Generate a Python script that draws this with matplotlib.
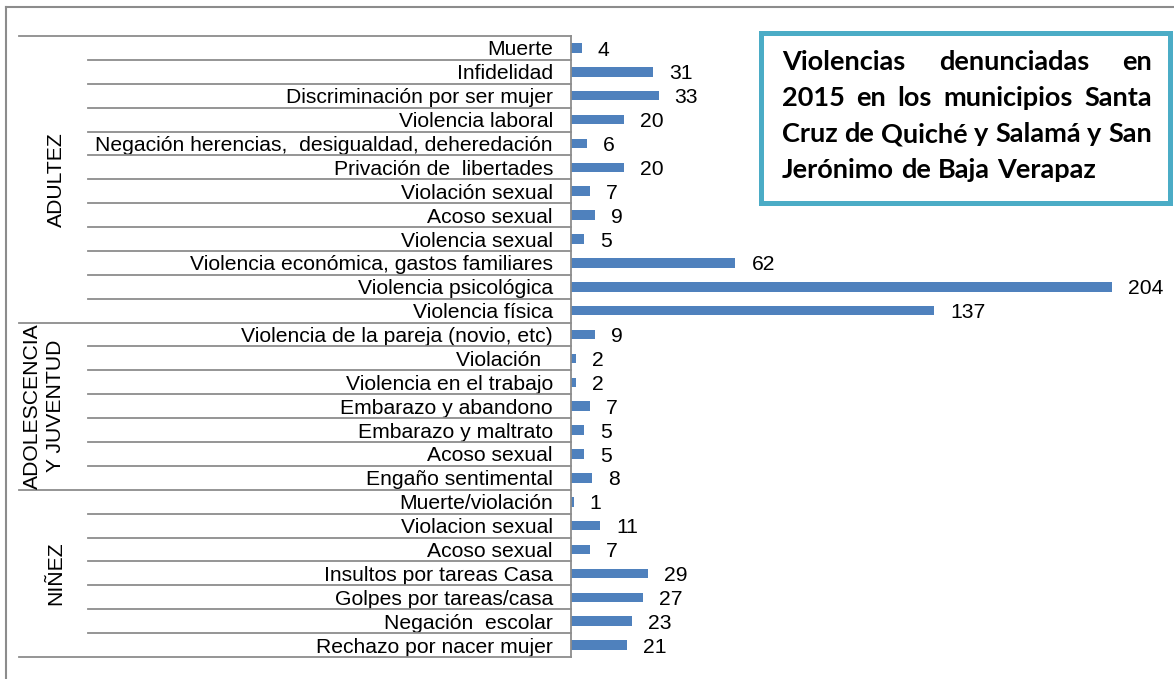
import matplotlib
matplotlib.use("Agg")
import matplotlib.pyplot as plt
from matplotlib.transforms import blended_transform_factory
from matplotlib.lines import Line2D
from matplotlib.patches import Rectangle

# datos
categorias = [
    "Muerte", "Infidelidad", "Discriminación por ser mujer", "Violencia laboral",
    "Negación herencias,  desigualdad, deheredación", "Privación de  libertades",
    "Violación sexual", "Acoso sexual", "Violencia sexual",
    "Violencia económica, gastos familiares", "Violencia psicológica", "Violencia física",
    "Violencia de la pareja (novio, etc)", "Violación  ", "Violencia en el trabajo",
    "Embarazo y abandono", "Embarazo y maltrato", "Acoso sexual", "Engaño sentimental",
    "Muerte/violación", "Violacion sexual", "Acoso sexual", "Insultos por tareas Casa",
    "Golpes por tareas/casa", "Negación  escolar", "Rechazo por nacer mujer",
]
valores = [4, 31, 33, 20, 6, 20, 7, 9, 5, 62, 204, 137,
           9, 2, 2, 7, 5, 5, 8,
           1, 11, 7, 29, 27, 23, 21]
grupos = ["ADULTEZ", "ADOLESCENCIA\nY JUVENTUD", "NIÑEZ"]
tam_grupos = [12, 7, 7]
titulo = ["Violencias denunciadas en", "2015 en los municipios Santa",
          "Cruz de Quiché y Salamá y San", "Jerónimo de Baja Verapaz"]

W, H = 1174, 679
fig = plt.figure(figsize=(W / 100, H / 100), dpi=100)
plt.rcParams['font.family'] = ['Liberation Sans', 'DejaVu Sans']
fs = 15.2

def fx(px):
    return px / W

def fy(py):
    return 1 - py / H

ax_left, ax_right, ax_top, ax_bot = 571, 1165, 36, 657
ax = fig.add_axes([fx(ax_left), fy(ax_bot), fx(ax_right - ax_left), (ax_bot - ax_top) / H])

y = list(range(len(categorias)))
ax.barh(y, valores, height=0.4, color="#4F81BD")
ax.set_xlim(0, (ax_right - ax_left) / 2.652)
ax.set_ylim(len(categorias) - 0.5, -0.5)

for i, v in enumerate(valores):
    ax.annotate(str(v), (v, i), xytext=(11.5, -1.5), textcoords="offset points",
                ha="left", va="center", fontsize=fs)

ax.set_yticks(y)
ax.set_yticklabels(categorias, fontsize=fs)
ax.tick_params(axis="y", length=0, pad=13)
ax.set_xticks([])
for s in ["top", "right", "bottom"]:
    ax.spines[s].set_visible(False)
ax.spines["left"].set_color("#8c8c8c")
ax.spines["left"].set_linewidth(1.3)

# lineas del eje de categorias
tr = blended_transform_factory(fig.transFigure, ax.transData)
limites = [0]
for n in tam_grupos:
    limites.append(limites[-1] + n)
for k in range(len(categorias) + 1):
    x0 = 19 if k in limites else 88
    fig.add_artist(Line2D([fx(x0), fx(ax_left)], [k - 0.5, k - 0.5], transform=tr,
                          color="#8c8c8c", lw=1.3))

for g, n, a, b in zip(grupos, tam_grupos, limites[:-1], limites[1:]):
    xg = 44 if "\n" in g else 56
    fig.text(fx(xg), (a + b - 1) / 2, g, transform=tr, rotation=90, ha="center",
             va="center", fontsize=fs, multialignment="center", linespacing=1.25)

# borde exterior
fig.add_artist(Line2D([fx(6), fx(6)], [fy(7), 0], color="#8c8c8c", lw=1.5))
fig.add_artist(Line2D([fx(6), 1], [fy(7), fy(7)], color="#8c8c8c", lw=1.5))

# cuadro del titulo
fig.add_artist(Rectangle((fx(760.5), fy(202.5)), fx(1169.5 - 760.5), (202.5 - 32.5) / H,
                         transform=fig.transFigure, fill=True, facecolor="white",
                         edgecolor="#4BACC6", lw=3.6))

renderer = fig.canvas.get_renderer()
x_ini, x_fin = 782, 1152
bases = [70, 106, 142, 178]
for j, linea in enumerate(titulo):
    palabras = linea.split()
    objs = [fig.text(0, fy(bases[j]), p, fontsize=19.5, fontweight="bold",
                     family=["Lato", "DejaVu Sans"], va="baseline", ha="left")
            for p in palabras]
    anchos = [o.get_window_extent(renderer).width for o in objs]
    if j < len(titulo) - 1:
        hueco = (x_fin - x_ini - sum(anchos)) / (len(palabras) - 1)
    else:
        hueco = 7
    x = x_ini
    for o, w in zip(objs, anchos):
        o.set_x(fx(x))
        x += w + hueco

fig.savefig("out.png", dpi=100)
